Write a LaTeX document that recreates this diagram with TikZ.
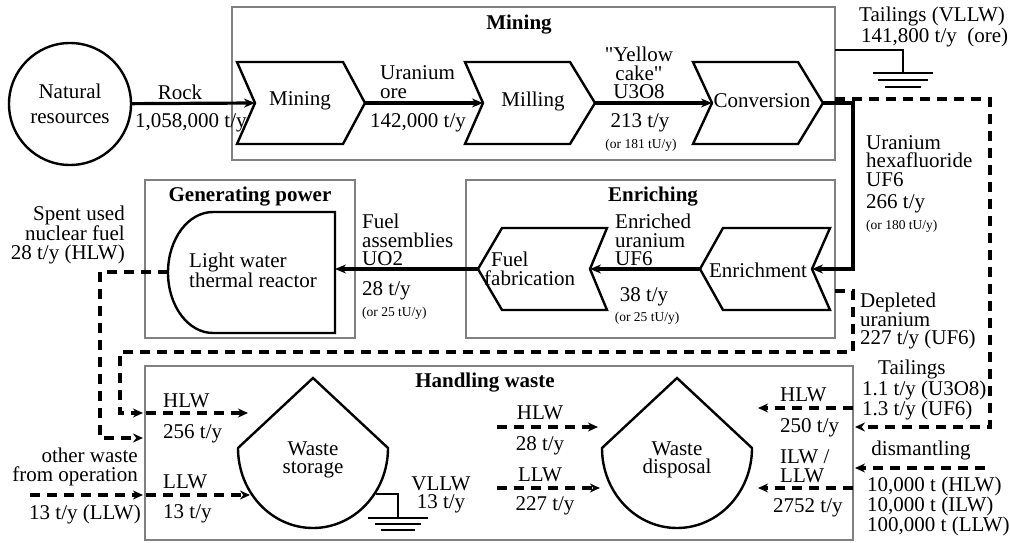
\documentclass[tikz,border=0pt]{standalone}
\usepackage{fontspec}
\setmainfont{Liberation Serif}
\usetikzlibrary{arrows.meta}
\newcommand\fsmain{\fontsize{21}{18.5}\selectfont}
\newcommand\fssmall{\fontsize{13.5}{14}\selectfont}

\begin{document}
\begin{tikzpicture}[x=1pt,y=-1pt,
  frame/.style={draw=black!50,line width=2pt},
  outline/.style={draw=black,line width=2.4pt,line join=miter},
  lbl/.style={inner sep=0pt,font=\fsmain},
  lblsmall/.style={inner sep=0pt,font=\fssmall},
  ttl/.style={inner sep=0pt,font=\fsmain\bfseries},
  flow/.style={line width=3.2pt,-{Stealth[length=11pt,width=9pt]}},
  waste/.style={line width=3.4pt,dash pattern=on 10pt off 7pt},
  wastearrow/.style={waste,-{Stealth[length=10pt,width=9pt]}},
  earth/.style={line width=2.4pt},
]
\useasboundingbox (0,0) rectangle (1010,543);

% ---------- stage frames ----------
\draw[frame] (232,7) rectangle (835,160);
\draw[frame] (145,180) rectangle (355,338);
\draw[frame] (466,180) rectangle (835,338);
\draw[frame] (145,366) rectangle (853,540);

\node[ttl] (t-mining) at (519,25) {Mining};
\node[ttl] (t-power) at (250,197) {Generating power};
\node[ttl] (t-enrich) at (653,197) {Enriching};
\node[ttl] (t-waste) at (485,383) {Handling waste};

% ---------- natural resources ----------
\node[draw,circle,line width=2.4pt,minimum size=122pt,inner sep=0pt,align=center,
      font=\fontsize{21}{25}\selectfont] (nat) at (70,104) {Natural\\resources};

% ---------- mining chain (right-pointing chevrons) ----------
\draw[outline] (237,62) -- (343,62) -- (365,103) -- (343,144) -- (237,144) -- (255,103) -- cycle;
\coordinate (mine-in) at (255,103);
\coordinate (mine-out) at (365,103);
\node[lbl] (n-mine) at (300,101) {Mining};

\draw[outline] (465,62) -- (570,62) -- (595,103) -- (570,144) -- (465,144) -- (483,103) -- cycle;
\coordinate (mill-in) at (483,103);
\coordinate (mill-out) at (595,103);
\node[lbl] (n-mill) at (533,101) {Milling};

\draw[outline] (693,62) -- (798,62) -- (823,103) -- (798,144) -- (693,144) -- (712,103) -- cycle;
\coordinate (conv-in) at (712,103);
\coordinate (conv-out) at (823,103);
\node[lbl] (n-conv) at (762,101) {Conversion};

% ---------- enriching chain (left-pointing chevrons) ----------
\draw[outline] (830,228) -- (723,228) -- (700,269) -- (723,310) -- (830,310) -- (812,269) -- cycle;
\coordinate (enr-in) at (812,269);
\coordinate (enr-out) at (700,269);
\node[lbl] (n-enr) at (758,270) {Enrichment};

\draw[outline] (607,228) -- (502,228) -- (478,269) -- (502,310) -- (607,310) -- (590,269) -- cycle;
\coordinate (fab-in) at (590,269);
\coordinate (fab-out) at (478,269);
\node[lbl,anchor=west,align=left] (n-fab) at (484,269) {\hspace*{7pt}Fuel\\fabrication};

% ---------- reactor ----------
\draw[outline] (335,212) -- (213,212) arc[start angle=270,end angle=90,x radius=45,y radius=60.5]
  -- (335,333) -- cycle;
\coordinate (lwr-in) at (335,269);
\coordinate (lwr-out) at (168,272);
\node[lbl,anchor=west,align=left] (n-lwr) at (189,270) {Light water\\thermal reactor};

% ---------- waste storage and disposal ----------
\draw[outline] (313,378) -- (388,448) arc[start angle=0,end angle=180,x radius=75,y radius=80] -- cycle;
\node[lbl,align=center] (n-store) at (313,460) {Waste\\storage};
\draw[outline] (677,378) -- (752,448) arc[start angle=0,end angle=180,x radius=75,y radius=80] -- cycle;
\node[lbl,align=center] (n-disp) at (677,460) {Waste\\disposal};

% ---------- main material flow ----------
\draw[flow] (nat) -- (mine-in);
\node[lbl] (l-rock) at (180,92) {Rock};
\node[lbl,anchor=west] (l-rockq) at (135,123) {1,058,000 t/y};

\draw[flow] (mine-out) -- (mill-in);
\node[lbl,anchor=west,align=left] (l-ore) at (380,82) {Uranium\\ore};
\node[lbl] (l-oreq) at (418,123) {142,000 t/y};

\draw[flow] (mill-out) -- (conv-in);
\node[lbl,align=center] (l-yc) at (639,73) {\textquotedbl Yellow\\cake\textquotedbl\\U3O8};
\node[lbl] (l-ycq) at (640,123) {213 t/y};
\node[lblsmall] (l-ycu) at (641,145) {(or 181 tU/y)};

\draw[flow] (conv-out) -- ++(30,0) |- (enr-in);
\node[lbl,anchor=west,align=left] (l-uf6) at (866,161) {Uranium\\hexafluoride\\UF6};
\node[lbl,anchor=west] (l-uf6q) at (866,204) {266 t/y};
\node[lblsmall,anchor=west] (l-uf6u) at (866,226) {(or 180 tU/y)};

\draw[flow] (enr-out) -- (fab-in);
\node[lbl,anchor=west,align=left] (l-euf6) at (615,240) {Enriched\\uranium\\UF6};
\node[lbl] (l-euf6q) at (644,297) {38 t/y};
\node[lblsmall] (l-euf6u) at (647,318) {(or 25 tU/y)};

\draw[flow] (fab-out) -- (lwr-in);
\node[lbl,anchor=west,align=left] (l-fa) at (362,240) {Fuel\\assemblies\\UO2};
\node[lbl,anchor=west] (l-faq) at (362,291) {28 t/y};
\node[lblsmall,anchor=west] (l-fau) at (362,313) {(or 25 tU/y)};

% ---------- mill tailings to ground ----------
\coordinate (mf-tail) at (835,50);
\coordinate (g1) at (903,73);
\draw[earth] (mf-tail) -| (g1);
\draw[earth] ([xshift=-30pt]g1) -- ([xshift=30pt]g1);
\draw[earth] ([xshift=-25pt,yshift=-7pt]g1) -- ([xshift=25pt,yshift=-7pt]g1);
\draw[earth] ([xshift=-18pt,yshift=-14pt]g1) -- ([xshift=18pt,yshift=-14pt]g1);
\node[lbl,anchor=west,align=left] (l-tail) at (859,27) {Tailings (VLLW)\\\hspace*{2pt}141,800 t/y\ \ (ore)};

% ---------- waste streams into handling ----------
\coordinate (mf-dash) at (835,99);
\coordinate (hw-tail) at (855,427);
\draw[wastearrow] (mf-dash) -- (990,99) -- (990,427) -- (hw-tail);
\node[lbl,anchor=west,align=left] (l-tl) at (862,390)
  {\hspace*{16pt}Tailings\\1.1 t/y (U3O8)\\1.3 t/y (UF6)};

\coordinate (dm-start) at (985,468);
\coordinate (hw-dm) at (855,468);
\draw[wastearrow] (dm-start) -- (hw-dm);
\node[lbl] (l-dm) at (921,450) {dismantling};
\node[lbl,anchor=west,align=left,font=\fontsize{21}{17.5}\selectfont] (l-dmq) at (867,506)
  {10,000 t (HLW)\\10,000 t (ILW)\\100,000 t (LLW)};

\coordinate (ef-dep) at (835,291);
\coordinate (hw-dep) at (143,413);
\draw[wastearrow] (ef-dep) -- (853,291) -- (853,352) -- (120,352) -- (120,413) -- (hw-dep);
\node[lbl,anchor=west,align=left] (l-dep) at (860,321) {Depleted\\uranium\\227 t/y (UF6)};

\coordinate (hw-spent) at (143,438);
\draw[wastearrow] (lwr-out) -- (100,272) -- (100,438) -- (hw-spent);
\node[lbl,anchor=east,align=right] (l-spent) at (125,235) {Spent used\\nuclear fuel\\28 t/y (HLW)};

\coordinate (ow-start) at (30,495);
\coordinate (hw-ow) at (143,495);
\draw[wastearrow] (ow-start) -- (hw-ow);
\node[lbl,anchor=east,align=right] (l-ow) at (138,467) {other waste\\from operation};
\node[lbl] (l-owq) at (85,514) {13 t/y (LLW)};

% ---------- flows inside handling waste ----------
\coordinate (hl-a) at (146,413);
\coordinate (hl-b) at (248,413);
\draw[wastearrow] (hl-a) -- (hl-b);
\node[lbl,anchor=west] (l-hl) at (163,401) {HLW};
\node[lbl,anchor=west] (l-hlq) at (163,434) {256 t/y};

\coordinate (ll-a) at (146,495);
\coordinate (ll-b) at (250,495);
\draw[wastearrow] (ll-a) -- (ll-b);
\node[lbl,anchor=west] (l-ll) at (163,482) {LLW};
\node[lbl,anchor=west] (l-llq) at (163,514) {13 t/y};

\coordinate (st-v) at (376,494);
\coordinate (g2) at (398,518);
\draw[earth] (st-v) -| (g2);
\draw[earth] ([xshift=-30pt]g2) -- ([xshift=30pt]g2);
\draw[earth] ([xshift=-23pt,yshift=-6pt]g2) -- ([xshift=23pt,yshift=-6pt]g2);
\draw[earth] ([xshift=-17pt,yshift=-12pt]g2) -- ([xshift=17pt,yshift=-12pt]g2);
\node[lbl,align=center] (l-vl) at (441,495) {VLLW\\13 t/y};

\coordinate (mh-a) at (497,427);
\coordinate (mh-b) at (598,427);
\draw[wastearrow] (mh-a) -- (mh-b);
\node[lbl] (l-mh) at (540,413) {HLW};
\node[lbl] (l-mhq) at (540,446) {28 t/y};

\coordinate (ml-a) at (497,488);
\coordinate (ml-b) at (600,488);
\draw[wastearrow] (ml-a) -- (ml-b);
\node[lbl] (l-ml) at (540,475) {LLW};
\node[lbl] (l-mlq) at (545,506) {227 t/y};

\coordinate (rh-a) at (853,408);
\coordinate (rh-b) at (758,408);
\draw[wastearrow] (rh-a) -- (rh-b);
\node[lbl,anchor=west] (l-rh) at (780,395) {HLW};
\node[lbl,anchor=west] (l-rhq) at (780,428) {250 t/y};

\coordinate (ri-a) at (853,488);
\coordinate (ri-b) at (758,488);
\draw[wastearrow] (ri-a) -- (ri-b);
\node[lbl,anchor=west,align=left] (l-ri) at (780,466) {ILW /\\LLW};
\node[lbl,anchor=west] (l-riq) at (773,508) {2752 t/y};

\end{tikzpicture}
\end{document}
